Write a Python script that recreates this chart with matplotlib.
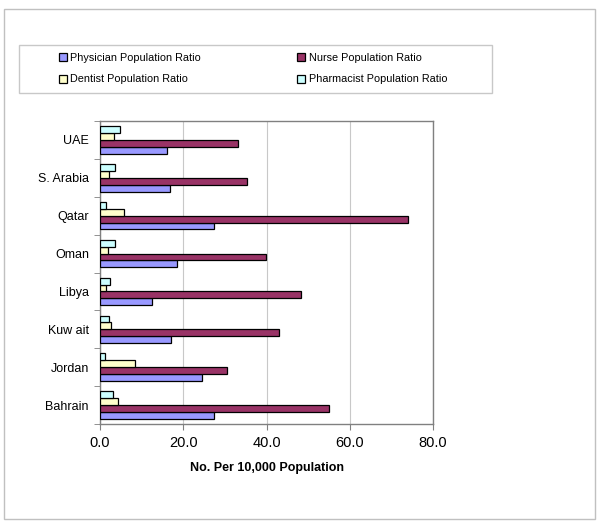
import numpy as np
import matplotlib
matplotlib.use('Agg')
import matplotlib.pyplot as plt
from matplotlib.patches import Rectangle

# --- data ---
countries = ['Bahrain', 'Jordan', 'Kuw ait', 'Libya', 'Oman', 'Qatar', 'S. Arabia', 'UAE']
physician = [27.5, 24.5, 17.0, 12.6, 18.6, 27.5, 16.9, 16.1]
nurse = [55.1, 30.4, 43.1, 48.4, 39.8, 74.1, 35.4, 33.1]
dentist = [4.2, 8.3, 2.7, 1.4, 1.9, 5.8, 2.2, 3.4]
pharmacist = [3.1, 1.1, 2.2, 2.5, 3.6, 1.4, 3.6, 4.7]

series_names = ['Physician Population Ratio', 'Nurse Population Ratio',
                'Dentist Population Ratio', 'Pharmacist Population Ratio']
series_colors = ['#9999FF', '#993366', '#FFFFCC', '#CCFFFF']
xticks = [0, 20, 40, 60, 80]

plt.rcParams['font.family'] = ['Liberation Sans', 'DejaVu Sans']

fig = plt.figure(figsize=(6.0, 5.23), dpi=100)
ax = fig.add_axes([0.1667, 0.1893, 0.555, 0.5793])

# outer chart border
fig.patches.append(Rectangle((4 / 600, 1 - 519 / 523), 591 / 600, 510 / 523,
                             transform=fig.transFigure, fill=False,
                             edgecolor='#c0c0c0', linewidth=1))

y = np.arange(len(countries))
h = 0.182
series = [physician, nurse, dentist, pharmacist]
handles = []
for i, (vals, name, col) in enumerate(zip(series, series_names, series_colors)):
    b = ax.barh(y + (i - 1.5) * h, vals, height=h, color=col,
                edgecolor='black', linewidth=0.9, label=name, zorder=3)
    handles.append(b)

ax.set_xlim(0, 80)
ax.set_ylim(-0.5, len(countries) - 0.5)
ax.set_xticks(xticks)
ax.set_xticklabels([f'{v:.1f}' for v in xticks], fontsize=10.5)
ax.set_yticks(y)
ax.set_yticklabels(countries, fontsize=9)
ax.tick_params(axis='y', length=0, pad=8)
ax.set_yticks(np.arange(-0.5, len(countries), 1), minor=True)
ax.tick_params(axis='y', which='minor', length=4, color='#808080')
ax.tick_params(axis='x', length=4, color='#808080', pad=5)
ax.xaxis.grid(True, color='#c8c8c8', linewidth=0.8, zorder=0)
for s in ax.spines.values():
    s.set_color('#808080')
    s.set_linewidth(1)

ax.set_xlabel('No. Per 10,000 Population', fontsize=9, fontweight='bold', labelpad=8)

# legend box
fig.patches.append(Rectangle((19 / 600, 1 - 92.7 / 523), 473 / 600, 47.7 / 523,
                             transform=fig.transFigure, fill=False,
                             edgecolor='#c8c8c8', linewidth=1))
order = [0, 2, 1, 3]
fig.legend([handles[i] for i in order], [series_names[i] for i in order],
           ncol=2, loc='center', bbox_to_anchor=(253 / 600, 1 - 68.5 / 523),
           frameon=False, fontsize=7.8, handlelength=0.75, handleheight=0.75,
           handletextpad=0.3, columnspacing=8.9, labelspacing=1.1)

fig.savefig('out.png', dpi=100, facecolor='white')
